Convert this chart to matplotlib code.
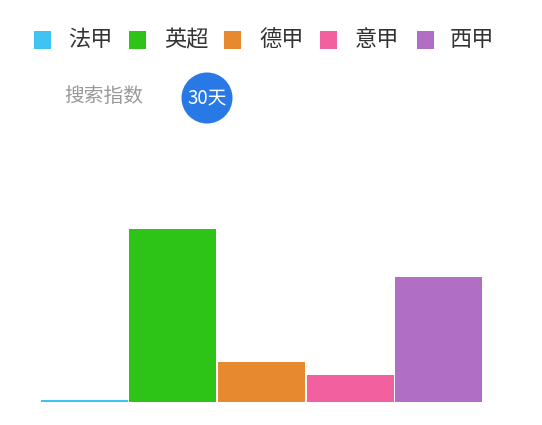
import matplotlib
matplotlib.use("Agg")
import matplotlib.pyplot as plt
from matplotlib.patches import Rectangle, Ellipse

plt.rcParams['font.family'] = ['Noto Sans CJK SC', 'DejaVu Sans']

# data
leagues = ['法甲', '英超', '德甲', '意甲', '西甲']
values = [20, 1724, 400, 267, 1244]
colors = ['#3EC3F2', '#2DC317', '#E6892F', '#F2609F', '#B06FC5']
label_text = '搜索指数'
button_text = '30天'

W, H = 542, 425
fig = plt.figure(figsize=(W / 100, H / 100), dpi=100)
fig.patch.set_facecolor('white')

def fx(px):
    return px / W

def fy(py):
    return 1 - py / H

# axes: x 40..483 px, bottom at 401.7, top at 130
ax_left, ax_right, ax_top, ax_bottom = 40, 483, 130, 401.7
ax = fig.add_axes([fx(ax_left), fy(ax_bottom), (ax_right - ax_left) / W, (ax_bottom - ax_top) / H])
ax.set_facecolor('white')
xs = list(range(len(leagues)))
ax.bar(xs, values, width=0.98, color=colors, edgecolor='none')
ax.set_xlim(-0.5, len(leagues) - 0.5)
ax.set_ylim(0, max(values) * (ax_bottom - ax_top) / 172.4)
ax.axis('off')

# legend
sq_left = [34, 128.5, 224, 320, 416.5]
txt_left = [68, 164.5, 259.5, 354.5, 450]
for i, (lab, c) in enumerate(zip(leagues, colors)):
    fig.patches.append(Rectangle((fx(sq_left[i]), fy(48.5)), 17 / W, 17 / H,
                                 transform=fig.transFigure, facecolor=c, edgecolor='none'))
    fig.text(fx(txt_left[i]), fy(40), lab, fontsize=16, color='#333333',
             ha='left', va='center')

# search index label and button
fig.text(fx(103.5), fy(96), label_text, fontsize=14.2, color='#999999', ha='center', va='center')
fig.patches.append(Ellipse((fx(207), fy(98)), 51 / W, 51 / H, transform=fig.transFigure,
                           facecolor='#2879E6', edgecolor='none'))
fig.text(fx(207), fy(98), button_text, fontsize=13.5, color='white', ha='center', va='center')

fig.savefig('out.png', dpi=100, facecolor='white')
